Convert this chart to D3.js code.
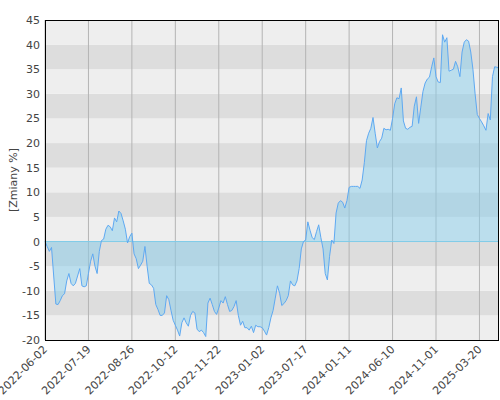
<!DOCTYPE html>
<html>
<head>
<meta charset="utf-8">
<script src="https://cdn.jsdelivr.net/npm/d3@7"></script>
<style>body{margin:0;background:#fff}</style>
</head>
<body>
<div id="chart"></div>
<script>
// percent change, evenly spaced sessions
var values = [0,-1,-2,-1.2,-7,-12.7,-12.8,-12,-11,-10.6,-8,-6.5,-8.5,-9,-8.5,-7,-5.5,-9,-9.2,-9,
  -6.5,-4,-2.5,-5,-6.5,-2,0.2,0.5,2.5,3.3,3,2.2,4.8,4,6.2,5.7,4.2,2.5,-0.3,1,
  1.7,-2.5,-3.5,-5.5,-4.8,-4,-1,-5,-8.5,-8.8,-9.5,-12.8,-13.8,-15,-15,-14.5,-11,-11.8,-14,-16,
  -17,-18,-19.2,-16.5,-15.5,-16.5,-17.2,-15,-14.2,-14.5,-17.8,-18.3,-18,-18.5,-19.3,-12.5,-11.5,-12.8,-14.2,-14.8,
  -13.5,-12,-12.5,-11.2,-12.8,-14.2,-14,-13.2,-12,-15,-17,-16.2,-17.5,-17.5,-18,-17.2,-18.5,-17,-17.3,-17.3,
  -17.5,-18.2,-19,-17.5,-15.5,-14,-11.5,-9,-10.5,-13,-12.6,-12,-11,-8,-8.8,-9,-8,-5.5,-1.5,0,
  0.3,4,2.3,0.8,0.4,2,3.4,0.8,-1.5,-6.5,-7.8,-3,0.3,-0.4,5.8,7.8,8.3,8,6.8,8.3,
  11,11.2,11.2,11.2,11.2,10.8,12.5,16,20.5,22,23,25.2,22,19,20.3,21,23,22.7,22.8,22.6,
  25,28,29.2,29,31.2,24.5,23,22.8,23.2,23.4,27.5,29.4,24,27.3,30.5,32.2,33,33.4,35.5,37.3,
  33.5,32.4,32.3,42,40.5,41.4,34.6,34.8,35,36.6,35.5,33.5,38.5,40.5,41,40.7,38.5,35,30,25.8,
  25,24.3,23.5,22.6,26,24.7,33.5,35.5,35.4,35.3];
var tickLabels = ["2022-06-02","2022-07-19","2022-08-26","2022-10-12","2022-11-22","2023-01-02",
  "2023-07-17","2024-01-11","2024-06-10","2024-11-01","2025-03-20"];
var tickIndex = [0,20,40,60,80,100,120,140,160,180,200];
var yTicks = [45,40,35,30,25,20,15,10,5,0,-5,-10,-15,-20];

var w = 500, h = 400;
var margin = {left:45, right:1, top:20, bottom:60};

var svg = d3.select("#chart").append("svg")
  .attr("width", w).attr("height", h)
  .style("font-family", "DejaVu Sans");

var x = d3.scaleLinear().domain([0, values.length-1]).range([margin.left, w-margin.right]);
var y = d3.scaleLinear().domain([-20,45]).range([h-margin.bottom, margin.top]);

// bands
for (var b = -20; b < 45; b += 5) {
  svg.append("rect")
    .attr("x", margin.left).attr("width", w-margin.right-margin.left)
    .attr("y", y(b+5)).attr("height", y(b)-y(b+5))
    .attr("fill", ((b+20)/5) % 2 == 1 ? "#dddddd" : "#eeeeee");
}

// vertical grid
svg.selectAll(".vg").data(tickIndex).enter().append("line")
  .attr("x1", function(d){return x(d);}).attr("x2", function(d){return x(d);})
  .attr("y1", y(45)).attr("y2", y(-20))
  .attr("stroke", "#b4b4b4").attr("stroke-width", 1);

var area = d3.area()
  .x(function(d,i){return x(i);})
  .y0(y(0)).y1(function(d){return y(d);});
svg.append("path").datum(values).attr("d", area)
  .attr("fill", "#87ceeb").attr("fill-opacity", 0.5);

svg.append("line").attr("x1", x(0)).attr("x2", x(values.length-1))
  .attr("y1", y(0)).attr("y2", y(0)).attr("stroke", "#7fcbe8").attr("stroke-width", 1);

var line = d3.line().x(function(d,i){return x(i);}).y(function(d){return y(d);});
svg.append("path").datum(values).attr("d", line)
  .attr("fill", "none").attr("stroke", "#5ea9f2").attr("stroke-width", 1);

// frame
svg.append("rect").attr("x", margin.left+0.5).attr("y", margin.top+0.5)
  .attr("width", w-margin.right-margin.left-1).attr("height", y(-20)-y(45))
  .attr("fill", "none").attr("stroke", "#000");

// y ticks
svg.selectAll(".yt").data(yTicks).enter().append("text")
  .attr("x", margin.left-5).attr("y", function(d){return y(d)+4;})
  .attr("text-anchor", "end").attr("font-size", 11).attr("fill", "#444")
  .text(function(d){return d;});

// x ticks
svg.selectAll(".xt").data(tickIndex).enter().append("text")
  .attr("transform", function(d){return "translate(" + (x(d)+3) + "," + (y(-20)+10) + ") rotate(-45)";})
  .attr("text-anchor", "end").attr("font-size", 11).attr("fill", "#444")
  .text(function(d,i){return tickLabels[i];});

svg.append("text")
  .attr("transform", "translate(17," + y(12.5) + ") rotate(-90)")
  .attr("text-anchor", "middle").attr("font-size", 11).attr("fill", "#444")
  .text("[Zmiany %]");
</script>
</body>
</html>
